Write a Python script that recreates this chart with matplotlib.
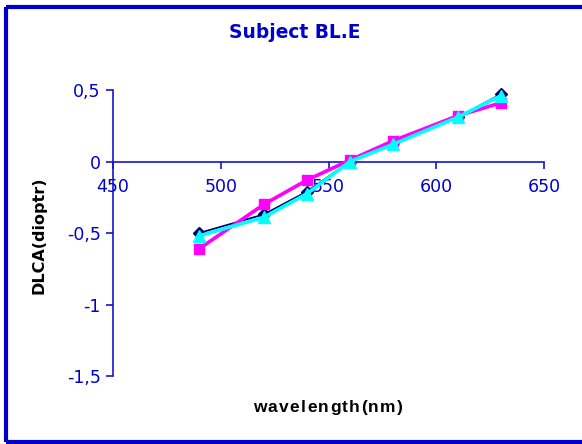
import matplotlib
matplotlib.use("Agg")
import matplotlib.pyplot as plt
from matplotlib.lines import Line2D

# Wavelengths (nm) and DLCA values (dioptres) for three measurement series
wavelength = [490, 520, 540, 560, 580, 610, 630]
series_diamond = [-0.50, -0.37, -0.21, 0.00, 0.13, 0.31, 0.47]
series_square = [-0.61, -0.30, -0.13, 0.01, 0.145, 0.32, 0.41]
series_triangle = [-0.52, -0.39, -0.225, 0.00, 0.12, 0.31, 0.46]

x_ticks = [450, 500, 550, 600, 650]
y_ticks = [0.5, 0.0, -0.5, -1.0, -1.5]
y_tick_labels = ["0,5", "0", "-0,5", "-1", "-1,5"]

title_text = "Subject BL.E"
x_label = "wavelength(nm)"
y_label = "DLCA(dioptr)"

BLUE = "#0000CC"
AXIS_BLUE = "#1414D2"

W, H = 582, 444
fig = plt.figure(figsize=(W / 100, H / 100), dpi=100)
fig.patch.set_facecolor("white")

ax = fig.add_axes([113 / W, 1 - 376 / H, (544 - 113) / W, (376 - 90) / H])
ax.set_facecolor("none")

ax.plot(wavelength, series_diamond, color="#000066", lw=1.3, marker="D",
        markersize=6, markerfacecolor="#000066", markeredgecolor="#000066",
        zorder=3, clip_on=False)
ax.plot(wavelength, series_square, color="#FF00FF", lw=2.6, marker="s",
        markersize=6.5, markerfacecolor="#FF00FF", markeredgecolor="#FF00FF",
        zorder=4, clip_on=False)
ax.plot(wavelength, series_triangle, color="#00FFFF", lw=2.6, marker="^",
        markersize=8, markerfacecolor="#00FFFF", markeredgecolor="#00FFFF",
        zorder=5, clip_on=False)

ax.set_xlim(450, 650)
ax.set_ylim(-1.5, 0.5)

for side in ("top", "right"):
    ax.spines[side].set_visible(False)
ax.spines["left"].set_position(("data", 450))
ax.spines["bottom"].set_position(("data", 0))
for side in ("left", "bottom"):
    ax.spines[side].set_color(AXIS_BLUE)
    ax.spines[side].set_linewidth(1.2)

ax.set_xticks(x_ticks)
ax.set_yticks(y_ticks)
ax.set_yticklabels(y_tick_labels)
ax.tick_params(axis="both", colors=AXIS_BLUE, labelcolor=BLUE, labelsize=12.5,
               length=5, width=1.2, direction="out")
ax.tick_params(axis="x", pad=7)
ax.tick_params(axis="y", pad=4)
for lab in ax.get_xticklabels() + ax.get_yticklabels():
    lab.set_fontfamily("DejaVu Sans")

fig.text(295 / W, 1 - 32 / H, title_text, ha="center", va="center",
         fontsize=13.4, fontweight="bold", color=BLUE, family="DejaVu Sans")
fig.text(39 / W, 1 - 235 / H, y_label, ha="center", va="center", rotation=90,
         fontsize=11.5, fontweight="bold", color="black", family="DejaVu Sans")


def spaced_text(x_center_px, y_center_px, text, spacing_px, **kw):
    """Draw text one character at a time with extra tracking between letters."""
    renderer = fig.canvas.get_renderer()
    widths = []
    for ch in text:
        t = fig.text(0, 0, ch, **kw)
        widths.append(t.get_window_extent(renderer).width)
        t.remove()
    total = sum(widths) + spacing_px * (len(text) - 1)
    x = x_center_px - total / 2
    for ch, w in zip(text, widths):
        fig.text(x / W, 1 - y_center_px / H, ch, ha="left", va="center", **kw)
        x += w + spacing_px


spaced_text(328, 407, x_label, 1.3, fontsize=12.5, fontweight="bold",
            color="black", family="Liberation Sans")

# Chart frame: left, top and bottom edges
frame_kw = dict(color=BLUE, lw=3, transform=fig.transFigure, solid_capstyle="butt")
fig.add_artist(Line2D([6 / W, 6 / W], [1 - 7 / H, 1 - 442 / H], **frame_kw))
fig.add_artist(Line2D([6 / W, 1.0], [1 - 7 / H, 1 - 7 / H], **frame_kw))
fig.add_artist(Line2D([6 / W, 1.0], [1 - 442 / H, 1 - 442 / H], **frame_kw))

fig.savefig("out.png", dpi=100)
